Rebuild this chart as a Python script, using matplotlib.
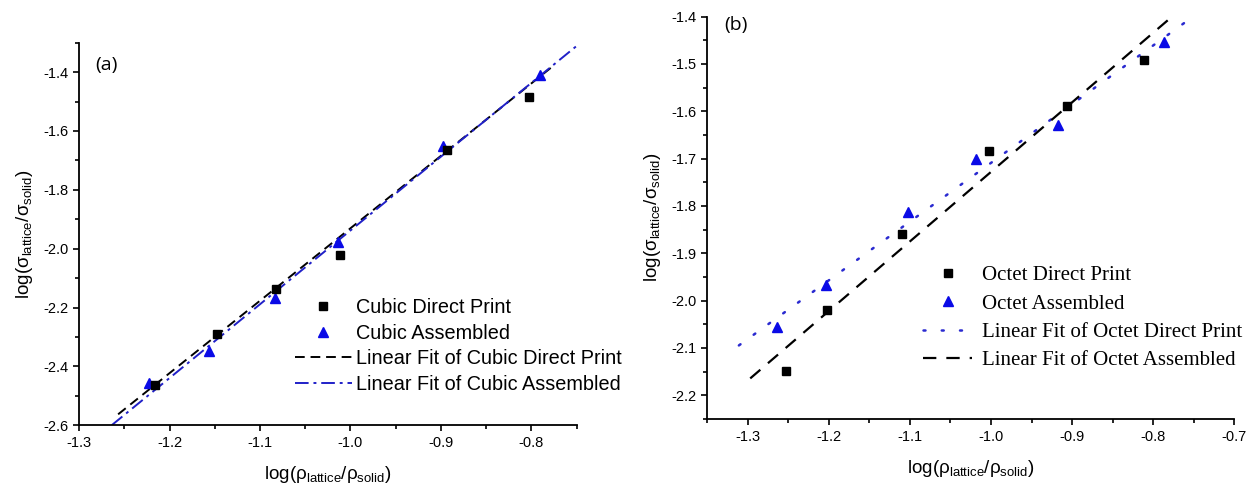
import numpy as np
import matplotlib
matplotlib.use("Agg")
import matplotlib.pyplot as plt
from matplotlib.ticker import MultipleLocator, FormatStrFormatter

plt.rcParams['font.family'] = ['Liberation Sans', 'DejaVu Sans']
plt.rcParams['mathtext.fontset'] = 'custom'
plt.rcParams['mathtext.rm'] = 'Liberation Sans'
plt.rcParams['mathtext.it'] = 'Liberation Sans'

# (a) cubic lattices
a_dp_x = [-1.216, -1.148, -1.082, -1.012, -0.893, -0.803]
a_dp_y = [-2.462, -2.291, -2.138, -2.020, -1.666, -1.483]
a_as_x = [-1.223, -1.156, -1.084, -1.014, -0.898, -0.790]
a_as_y = [-2.458, -2.348, -2.167, -1.978, -1.650, -1.411]
# linear fits: slope, intercept, x span
a_fit_dp = [2.460, 0.5295]
a_fit_dp_span = [-1.257, -0.7765]
a_fit_as = [2.506, 0.5681]
a_fit_as_span = [-1.264, -0.75]

# (b) octet lattices
b_dp_x = [-1.253, -1.202, -1.110, -1.003, -0.906, -0.811]
b_dp_y = [-2.149, -2.019, -1.859, -1.684, -1.589, -1.492]
b_as_x = [-1.264, -1.204, -1.103, -1.018, -0.917, -0.787]
b_as_y = [-2.056, -1.966, -1.813, -1.701, -1.628, -1.453]
b_fit_dp = [1.240, -0.469]
b_fit_dp_span = [-1.311, -0.7556]
b_fit_as = [1.469, -0.259]
b_fit_as_span = [-1.297, -0.7728]

ylab = r'log($\mathregular{\sigma_{lattice}/\sigma_{solid}}$)'
xlab = r'log($\mathregular{\rho_{lattice}/\rho_{solid}}$)'

BLUE = '#0a0ae6'


def fit_line(coef, span):
    xs = np.array(span)
    return xs, coef[0] * xs + coef[1]


def style_axes(ax):
    for s in ['top', 'right']:
        ax.spines[s].set_visible(False)
    for s in ['left', 'bottom']:
        ax.spines[s].set_linewidth(1.3)
    ax.tick_params(which='both', direction='out', width=1.2, labelsize=10.5)
    ax.tick_params(which='major', length=4.5)
    ax.tick_params(which='minor', length=3)
    ax.xaxis.set_major_formatter(FormatStrFormatter('%.1f'))
    ax.yaxis.set_major_formatter(FormatStrFormatter('%.1f'))
    ax.set_xlabel(xlab, fontsize=13.5, labelpad=10)
    ax.set_ylabel(ylab, fontsize=13.5, labelpad=6)


fig = plt.figure(figsize=(12.56, 4.92), dpi=100)

# ---- panel (a)
ax1 = fig.add_axes([0.0631, 0.1356, 0.3959, 0.7776])
ax1.plot(a_dp_x, a_dp_y, 's', color='black', ms=6, label='Cubic Direct Print', zorder=4)
ax1.plot(a_as_x, a_as_y, '^', color=BLUE, ms=7, label='Cubic Assembled', zorder=3)
xs, ys = fit_line(a_fit_dp, a_fit_dp_span)
ax1.plot(xs, ys, color='black', lw=1.4, dashes=(5, 3), label='Linear Fit of Cubic Direct Print')
xs, ys = fit_line(a_fit_as, a_fit_as_span)
ax1.plot(xs, ys, color='#2020c8', lw=1.4, dashes=(7, 2.5, 1.5, 2.5),
         label='Linear Fit of Cubic Assembled')
ax1.set_xlim(-1.3, -0.75)
ax1.set_ylim(-2.6, -1.3)
ax1.xaxis.set_major_locator(MultipleLocator(0.1))
ax1.xaxis.set_minor_locator(MultipleLocator(0.05))
ax1.yaxis.set_major_locator(MultipleLocator(0.2))
ax1.yaxis.set_minor_locator(MultipleLocator(0.1))
style_axes(ax1)
ax1.set_yticks(np.arange(-2.6, -1.39, 0.2))
ax1.legend(loc='upper left', bbox_to_anchor=(0.2349, 0.394), bbox_transform=fig.transFigure,
           frameon=False, borderpad=0, borderaxespad=0, fontsize=14.3,
           handlelength=2.85, handletextpad=0.2, labelspacing=0.33, numpoints=1)
fig.text(106 / 1256, 1 - 65 / 492, '(a)', fontsize=14, family='Open Sans', ha='center', va='center')

# ---- panel (b)
ax2 = fig.add_axes([0.5631, 0.1484, 0.4196, 0.8179])
ax2.plot(b_dp_x, b_dp_y, 's', color='black', ms=6, label='Octet Direct Print', zorder=4)
ax2.plot(b_as_x, b_as_y, '^', color=BLUE, ms=7, label='Octet Assembled', zorder=3)
xs, ys = fit_line(b_fit_dp, b_fit_dp_span)
ax2.plot(xs, ys, color='#2a2ad0', lw=1.8, dashes=(0.8, 6.5), dash_capstyle='round',
         label='Linear Fit of Octet Direct Print')
xs, ys = fit_line(b_fit_as, b_fit_as_span)
ax2.plot(xs, ys, color='black', lw=1.6, dashes=(6, 4.5), label='Linear Fit of Octet Assembled')
ax2.set_xlim(-1.35, -0.7)
ax2.set_ylim(-2.25, -1.4)
ax2.xaxis.set_major_locator(MultipleLocator(0.1))
ax2.xaxis.set_minor_locator(MultipleLocator(0.05))
ax2.yaxis.set_major_locator(MultipleLocator(0.1))
ax2.yaxis.set_minor_locator(MultipleLocator(0.05))
style_axes(ax2)
ax2.set_xticks(np.arange(-1.3, -0.69, 0.1))
ax2.legend(loc='upper left', bbox_to_anchor=(0.7349, 0.46), bbox_transform=fig.transFigure,
           frameon=False, borderpad=0, borderaxespad=0, numpoints=1,
           prop={'family': 'Liberation Serif', 'size': 15},
           handlelength=2.35, handletextpad=0.5, labelspacing=0.42)
fig.text(736 / 1256, 1 - 25 / 492, '(b)', fontsize=14, family='Open Sans', ha='center', va='center')

fig.savefig('out.png', dpi=100)
